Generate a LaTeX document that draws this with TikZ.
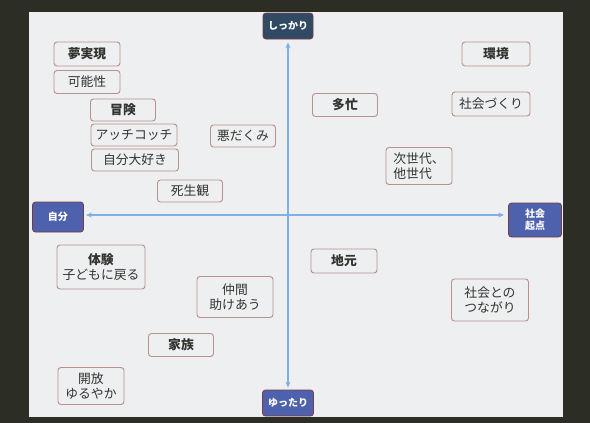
\documentclass[tikz,border=0pt]{standalone}
\usepackage{fontspec}
\setmainfont{Noto Sans CJK JP}
\usetikzlibrary{arrows.meta}
\definecolor{outerbg}{HTML}{2C2E26}
\definecolor{slidebg}{HTML}{EDEFF0}
\definecolor{boxline}{HTML}{B8908E}
\definecolor{boxtext}{HTML}{333330}
\definecolor{axisblue}{HTML}{7FAFE4}
\definecolor{keyblue}{HTML}{4E61AC}
\definecolor{keynavy}{HTML}{2F4A62}
\definecolor{keyline}{HTML}{7A3A44}

\begin{document}
\begin{tikzpicture}[
  x=1pt, y=-1pt,
  word/.style={draw=boxline, fill=slidebg, rounded corners=3pt, line width=0.9pt,
    text=boxtext, align=center, inner sep=2pt, font=\fontsize{12.8}{15.5}\selectfont},
  bword/.style={word, font=\fontsize{12.8}{15.5}\selectfont\bfseries},
  key/.style={draw=keyline, fill=keyblue, rounded corners=3pt, line width=0.8pt,
    text=white, align=center, inner sep=2pt, font=\fontsize{10}{12.5}\selectfont\bfseries},
  axis/.style={draw=axisblue, line width=1.2pt, {Stealth[length=6pt,width=5pt]}-{Stealth[length=6pt,width=5pt]}}
]
\useasboundingbox (0,0) rectangle (590,423);
\fill[outerbg] (0,0) rectangle (590,423);
\fill[slidebg] (29,12) rectangle (563,417);

% axes
\node[key, fill=keynavy, minimum width=50pt, minimum height=26pt] (shikkari) at (288,26) {しっかり};
\node[key, minimum width=51pt, minimum height=26pt] (yuttari) at (288,403) {ゆったり};
\node[key, minimum width=51pt, minimum height=30pt] (jibun) at (58,217) {自分};
\node[key, minimum width=53pt, minimum height=34pt] (kiten) at (535,220) {社会\\起点};
\coordinate (o) at (288,215);
\draw[axis, shorten <=3pt, shorten >=2pt] (shikkari) -- (yuttari);
\draw[axis, shorten <=2pt, shorten >=4pt] (jibun.east |- o) -- (kiten.west |- o);

% upper left
\node[bword, minimum width=66pt, minimum height=24pt] (yume) at (87,54) {夢実現};
\node[word, minimum width=66pt, minimum height=23pt] (kanou) at (87,82) {可能性};
\node[bword, minimum width=65pt, minimum height=22pt] (bouken) at (123,110) {冒険};
\node[word, minimum width=86pt, minimum height=22pt] (acchi) at (134,135) {アッチコッチ};
\node[word, minimum width=87pt, minimum height=22pt] (daisuki) at (135,160) {自分大好き};
\node[word, minimum width=65pt, minimum height=22pt] (warudakumi) at (243,136) {悪だくみ};
\node[word, minimum width=65pt, minimum height=22pt] (shiseikan) at (190,191) {死生観};

% upper right
\node[bword, minimum width=65pt, minimum height=23pt] (tabou) at (345,105) {多忙};
\node[bword, minimum width=68pt, minimum height=24pt] (kankyou) at (496,54) {環境};
\node[word, minimum width=78pt, minimum height=24pt] (shakaidukuri) at (491,104) {社会づくり};
\node[word, minimum width=66pt, minimum height=37pt, align=left] (sedai) at (419,166) {次世代、\\他世代};

% lower left
\node[word, minimum width=88pt, minimum height=44pt] (taiken) at (101,267) {\textbf{体験}\\子どもに戻る};
\node[word, minimum width=76pt, minimum height=41pt] (nakama) at (235,297) {仲間\\助けあう};
\node[bword, minimum width=65pt, minimum height=23pt] (kazoku) at (181,345) {家族};
\node[word, minimum width=66pt, minimum height=37pt] (kaihou) at (91,386) {開放\\ゆるやか};

% lower right
\node[bword, minimum width=66pt, minimum height=24pt] (jimoto) at (344,261) {地元};
\node[word, minimum width=77pt, minimum height=42pt] (tsunagari) at (490,300) {社会との\\つながり};
\end{tikzpicture}
\end{document}
